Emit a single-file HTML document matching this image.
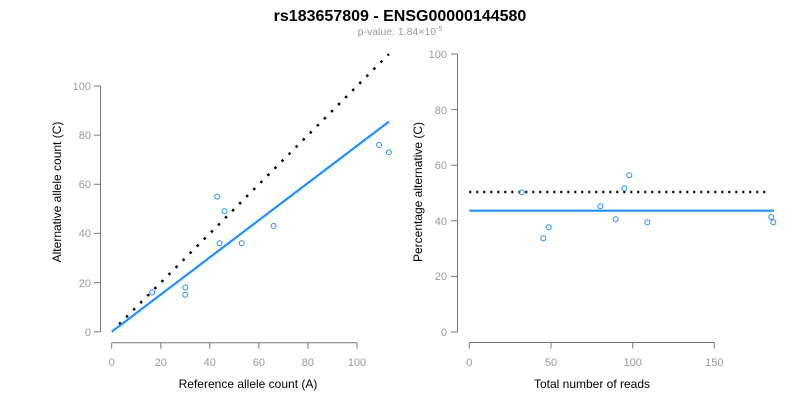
<!DOCTYPE html>
<html><head><meta charset="utf-8"><style>html,body{margin:0;padding:0;background:#fff}svg{display:block}</style></head>
<body>
<svg width="800" height="400" xmlns="http://www.w3.org/2000/svg" font-family="Liberation Sans, Arial, sans-serif">
<rect width="800" height="400" fill="#fff"/>
<text x="400" y="21" text-anchor="middle" font-size="16" font-weight="bold" fill="#000">rs183657809 - ENSG00000144580</text>
<text x="400" y="35" text-anchor="middle" font-size="10.5" fill="#999">p-value: 1.84×10<tspan dy="-4" font-size="7">-5</tspan></text>

<!-- Left plot -->
<g stroke="#777" stroke-width="1" fill="none">
<path d="M100.5,86 V331.7 M94,86H100.5 M94,135.1H100.5 M94,184.3H100.5 M94,233.4H100.5 M94,282.6H100.5 M94,331.7H100.5"/>
<path d="M111.7,342.7 H357 M111.7,342.7v6 M160.8,342.7v6 M209.8,342.7v6 M258.9,342.7v6 M307.9,342.7v6 M357,342.7v6"/>
</g>
<g font-size="11" fill="#999" text-anchor="end">
<text x="91" y="90">100</text><text x="91" y="139">80</text><text x="91" y="188">60</text><text x="91" y="237">40</text><text x="91" y="287">20</text><text x="91" y="336">0</text>
</g>
<g font-size="11" fill="#999" text-anchor="middle">
<text x="111.7" y="366">0</text><text x="160.8" y="366">20</text><text x="209.8" y="366">40</text><text x="258.9" y="366">60</text><text x="307.9" y="366">80</text><text x="357" y="366">100</text>
</g>
<text x="248" y="388" text-anchor="middle" font-size="12" fill="#000">Reference allele count (A)</text>
<text transform="translate(61,192) rotate(-90)" text-anchor="middle" font-size="12" fill="#000">Alternative allele count (C)</text>
<line x1="119.1" y1="324.3" x2="388.9" y2="54.1" stroke="#000" stroke-width="2.5" stroke-dasharray="2.5,7.5"/>
<line x1="111.7" y1="331.7" x2="388.9" y2="121.6" stroke="#1e90ff" stroke-width="2.2"/>
<g fill="none" stroke="#1e90ff" stroke-width="1">
<circle cx="152.2" cy="292.4" r="2.5"/><circle cx="185.3" cy="287.5" r="2.5"/><circle cx="185.3" cy="294.8" r="2.5"/>
<circle cx="217.2" cy="196.6" r="2.5"/><circle cx="219.6" cy="243.3" r="2.5"/><circle cx="224.5" cy="211.3" r="2.5"/>
<circle cx="241.7" cy="243.3" r="2.5"/><circle cx="273.6" cy="226.0" r="2.5"/><circle cx="379.1" cy="145.0" r="2.5"/>
<circle cx="388.9" cy="152.3" r="2.5"/>
</g>

<!-- Right plot -->
<g stroke="#777" stroke-width="1" fill="none">
<path d="M457.5,54 V332 M451,54H457.5 M451,109.6H457.5 M451,165.2H457.5 M451,220.8H457.5 M451,276.4H457.5 M451,332H457.5"/>
<path d="M469.3,342.5 H714.3 M469.3,342.5v6 M551,342.5v6 M632.7,342.5v6 M714.3,342.5v6"/>
</g>
<g font-size="11" fill="#999" text-anchor="end">
<text x="447" y="58">100</text><text x="447" y="114">80</text><text x="447" y="169">60</text><text x="447" y="225">40</text><text x="447" y="280">20</text><text x="447" y="336">0</text>
</g>
<g font-size="11" fill="#999" text-anchor="middle">
<text x="469.3" y="366">0</text><text x="551" y="366">50</text><text x="632.7" y="366">100</text><text x="714.3" y="366">150</text>
</g>
<text x="592" y="388" text-anchor="middle" font-size="12" fill="#000">Total number of reads</text>
<text transform="translate(422,192) rotate(-90)" text-anchor="middle" font-size="12" fill="#000">Percentage alternative (C)</text>
<line x1="469.3" y1="192" x2="770" y2="192" stroke="#000" stroke-width="2.5" stroke-dasharray="2,5"/>
<line x1="469.3" y1="210.7" x2="774" y2="210.7" stroke="#1e90ff" stroke-width="2.2"/>
<g fill="none" stroke="#1e90ff" stroke-width="1">
<circle cx="521.7" cy="192.3" r="2.5"/><circle cx="543.3" cy="238.3" r="2.5"/><circle cx="548.7" cy="227.3" r="2.5"/>
<circle cx="600.3" cy="206.3" r="2.5"/><circle cx="615.7" cy="219.3" r="2.5"/><circle cx="624.3" cy="188.3" r="2.5"/>
<circle cx="629.3" cy="175.3" r="2.5"/><circle cx="647.3" cy="222.3" r="2.5"/><circle cx="771.3" cy="217" r="2.5"/>
<circle cx="773.3" cy="222.3" r="2.5"/>
</g>
</svg>
</body></html>
